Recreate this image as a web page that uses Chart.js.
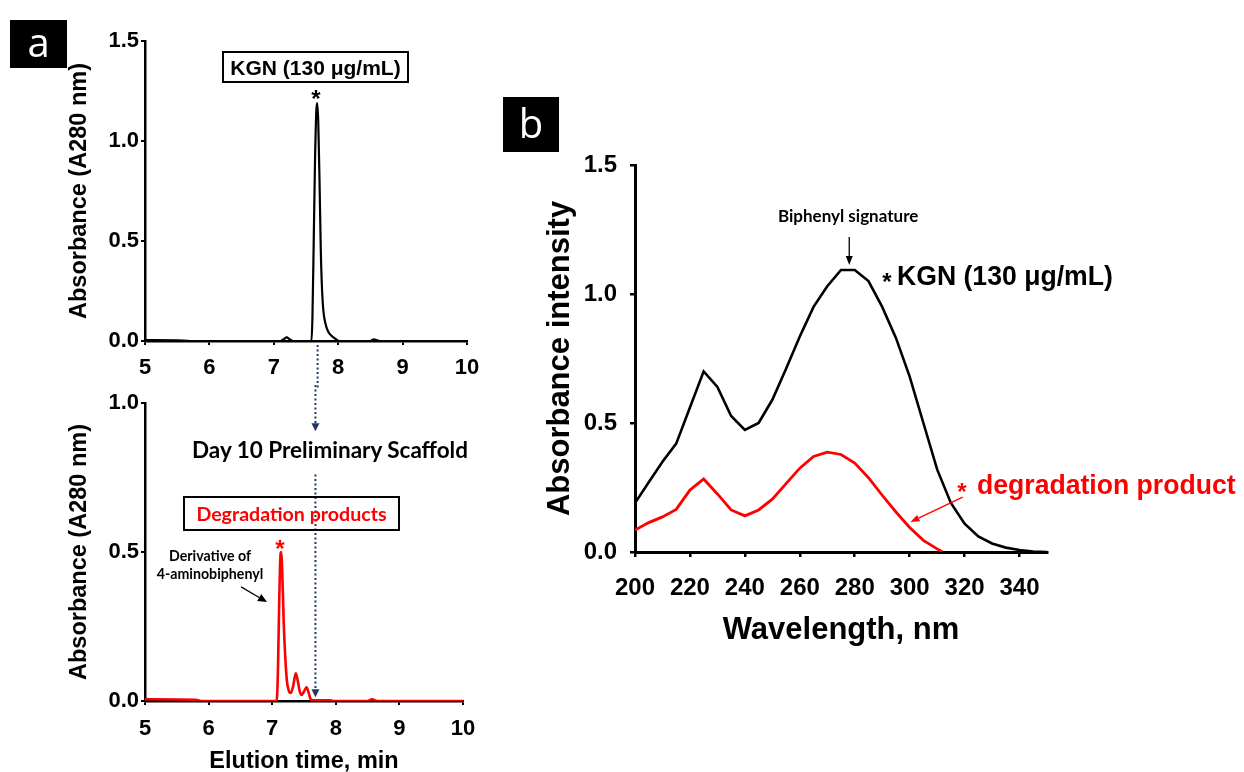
<!DOCTYPE html>
<html><head><meta charset="utf-8">
<script src="https://cdn.jsdelivr.net/npm/chart.js@4.4.1/dist/chart.umd.min.js"></script>
<style>
html,body{margin:0;padding:0;background:#fff;width:1244px;height:772px;overflow:hidden;position:relative}
.t{position:absolute;white-space:nowrap;font-family:"Liberation Sans",Arial,sans-serif;font-weight:bold;line-height:1}
.c{font-family:Lato,"Open Sans",sans-serif}
canvas{position:absolute}
</style></head><body>
<canvas id="cTop" width="450" height="365" style="left:40px;top:25px"></canvas>
<canvas id="cBot" width="447" height="387" style="left:40px;top:385px"></canvas>
<canvas id="cB" width="540" height="523" style="left:520px;top:137px"></canvas>

<div class="t" style="left:10px;top:20px;width:57px;height:48px;background:#000;color:#fff;font-family:'Open Sans',sans-serif;font-weight:normal;font-size:40px;line-height:44px;text-align:center">a</div>
<div class="t" style="left:503px;top:97px;width:56px;height:55px;background:#000;color:#fff;font-family:'Open Sans',sans-serif;font-weight:normal;font-size:40px;line-height:52px;text-align:center">b</div>

<div class="t" style="left:222px;top:51px;width:183px;height:28px;border:2px solid #000;font-size:21px;line-height:29px;text-align:center">KGN (130 μg/mL)</div>
<div class="t" style="left:306px;top:87px;width:20px;text-align:center;font-size:24px">*</div>
<div class="t c" style="left:192px;top:438.5px;font-size:22.5px">Day 10 Preliminary Scaffold</div>
<div class="t c" style="left:183px;top:496px;width:213px;height:31px;border:2px solid #000;font-size:19.6px;line-height:32px;text-align:center;color:#ff0000">Degradation products</div>
<div class="t c" style="left:150px;top:547px;width:120px;text-align:center;font-size:14.2px;line-height:18px">Derivative of<br>4-aminobiphenyl</div>
<div class="t" style="left:270px;top:537px;width:20px;text-align:center;font-size:24px;color:#ff0000">*</div>

<div class="t c" style="left:778px;top:207px;font-size:17px">Biphenyl signature</div>
<div class="t" style="left:877px;top:270px;width:20px;text-align:center;font-size:24px">*</div>
<div class="t" style="left:897px;top:262px;font-size:28px;transform:scaleX(0.95);transform-origin:left center">KGN (130 μg/mL)</div>
<div class="t" style="left:952px;top:480px;width:20px;text-align:center;font-size:24px;color:#ff0000">*</div>
<div class="t" style="left:977px;top:471px;font-size:28px;color:#ff0000;transform:scaleX(0.95);transform-origin:left center">degradation product</div>

<script>
// ---- data: HPLC of KGN standard (panel a, top) ----
const kgnTime = [5.0, 5.5, 5.7, 7.10, 7.15, 7.20, 7.25, 7.30, 7.56, 7.585, 7.60, 7.62, 7.64, 7.66, 7.673, 7.69, 7.71, 7.73, 7.75, 7.77, 7.80, 7.84, 7.90, 7.96, 8.02, 8.50, 8.55, 8.60, 8.65, 10.0];
const kgnAbs  = [0.004, 0.003, 0.0, 0.0, 0.008, 0.018, 0.008, 0.0, 0.0, 0.0, 0.12, 0.5, 0.9, 1.15, 1.19, 1.1, 0.8, 0.45, 0.25, 0.15, 0.09, 0.05, 0.025, 0.01, 0.0, 0.0, 0.008, 0.004, 0.0, 0.0];
// ---- data: HPLC of day-10 scaffold (panel a, bottom) ----
const degTime = [5.0, 5.8, 5.9, 7.05, 7.07, 7.09, 7.11, 7.13, 7.14, 7.16, 7.18, 7.20, 7.23, 7.26, 7.29, 7.33, 7.37, 7.40, 7.43, 7.46, 7.50, 7.54, 7.57, 7.60, 7.65, 7.90, 8.00, 8.50, 8.57, 8.65, 10.0];
const degAbs  = [0.006, 0.004, 0.0, 0.0, 0.0, 0.1, 0.33, 0.49, 0.5, 0.42, 0.27, 0.17, 0.07, 0.035, 0.027, 0.05, 0.093, 0.07, 0.035, 0.02, 0.032, 0.046, 0.03, 0.008, 0.002, 0.002, 0.0, 0.0, 0.006, 0.0, 0.0];
// ---- data: UV spectra (panel b) ----
const kgnWl   = [200,205,210,215,220,225,230,235,240,245,250,255,260,265,270,275,280,285,290,295,300,305,310,315,320,325,330,335,340,345,350];
const kgnSpec = [0.19,0.27,0.35,0.42,0.56,0.70,0.64,0.527,0.473,0.50,0.59,0.71,0.835,0.95,1.03,1.093,1.093,1.05,0.95,0.83,0.68,0.50,0.32,0.19,0.11,0.06,0.033,0.017,0.008,0.002,0.0];
const degWl   = [200,205,210,215,220,225,230,235,240,245,250,255,260,265,270,275,280,285,290,295,300,305,310,312];
const degSpec = [0.085,0.114,0.136,0.165,0.24,0.283,0.225,0.163,0.14,0.163,0.205,0.265,0.325,0.37,0.387,0.378,0.345,0.288,0.22,0.155,0.095,0.045,0.012,0.0];
// ---- tick labels ----
const elutionTicks = [5,6,7,8,9,10];
const topAbsTicks  = [0,0.5,1.0,1.5];
const botAbsTicks  = [0,0.5,1.0];
const wlTicks      = [200,220,240,260,280,300,320,340];
const specTicks    = [0,0.5,1.0,1.5];

const FF = '"Liberation Sans", Arial, sans-serif';
const NAVY = '#1f3864';

function pts(xs, ys){ return xs.map((x,i)=>({x:x, y:ys[i]})); }

function arrow(ctx,x1,y1,x2,y2,color,lw,hl,hw,dash){
  ctx.save(); ctx.strokeStyle=color; ctx.fillStyle=color; ctx.lineWidth=lw;
  const a=Math.atan2(y2-y1,x2-x1);
  const bx=x2-hl*Math.cos(a), by=y2-hl*Math.sin(a);
  if(dash) ctx.setLineDash(dash);
  ctx.beginPath(); ctx.moveTo(x1,y1); ctx.lineTo(bx,by); ctx.stroke();
  ctx.setLineDash([]);
  ctx.beginPath(); ctx.moveTo(x2,y2);
  ctx.lineTo(bx+hw/2*Math.sin(a), by-hw/2*Math.cos(a));
  ctx.lineTo(bx-hw/2*Math.sin(a), by+hw/2*Math.cos(a));
  ctx.closePath(); ctx.fill(); ctx.restore();
}

function mk(id, datasets, o){
  return new Chart(document.getElementById(id), {
    type:'scatter',
    data:{datasets:datasets},
    options:{
      responsive:false, animation:false, events:[],
      layout:{padding:o.pad},
      plugins:{legend:{display:false}, tooltip:{enabled:false}},
      scales:{
        x:{type:'linear', min:o.xmin, max:o.xmax,
          afterBuildTicks:s=>{ s.ticks=o.xt.map(v=>({value:v})); },
          afterFit:s=>{ s.height=o.xh; },
          grid:{display:true, drawOnChartArea:false, drawTicks:true, tickLength:o.tl, color:'#000', lineWidth:o.tw},
          border:{display:true, color:'#000', width:o.bw},
          ticks:{color:'#000', font:{family:FF, size:o.xfs, weight:'bold'}, padding:o.xpad, maxRotation:0, autoSkip:false, callback:v=>String(v)},
          title:o.xtitle},
        y:{type:'linear', min:o.ymin, max:o.ymax,
          afterBuildTicks:s=>{ s.ticks=o.yt.map(v=>({value:v})); },
          afterFit:s=>{ s.width=o.yw; },
          grid:{display:true, drawOnChartArea:false, drawTicks:true, tickLength:o.tl, color:'#000', lineWidth:o.tw},
          border:{display:true, color:'#000', width:o.bw},
          ticks:{color:'#000', font:{family:FF, size:o.yfs, weight:'bold'}, padding:o.ypad, autoSkip:false, callback:v=>v.toFixed(1)},
          title:o.ytitle}
      }
    },
    plugins:o.plugin?[o.plugin]:[]
  });
}

const lineDs = (data,color,w,smooth)=>({data:data, showLine:true, borderColor:color, borderWidth:w, pointRadius:0, fill:false,
  cubicInterpolationMode: smooth?'monotone':'default', tension:0});

// panel a, top
mk('cTop', [lineDs(pts(kgnTime,kgnAbs),'#000',2.2,true)], {
  pad:{top:16,right:23,left:0,bottom:0}, xmin:5, xmax:10, ymin:0, ymax:1.5,
  xt:elutionTicks, yt:topAbsTicks, xh:49, yw:105, tl:4, tw:2, bw:2.5, xfs:22, yfs:22, xpad:10, ypad:2,
  xtitle:{display:false},
  ytitle:{display:true, text:'Absorbance (A280 nm)', color:'#000', font:{family:FF,size:23.5,weight:'bold',lineHeight:1.2}, padding:{top:25,bottom:0}},
  plugin:{id:'dotTop', afterDraw(c){
    const x=c.scales.x.getPixelForValue(7.68), y0=c.scales.y.getPixelForValue(0);
    const ctx=c.ctx; ctx.save(); ctx.strokeStyle=NAVY; ctx.lineWidth=2; ctx.setLineDash([2,2.5]);
    ctx.beginPath(); ctx.moveTo(x,y0+4); ctx.lineTo(x,c.height); ctx.stroke(); ctx.restore();
  }}
});

// panel a, bottom
mk('cBot', [lineDs(pts(degTime,degAbs),'#ff0000',2.6,true)], {
  pad:{top:18,right:24,left:0,bottom:0}, xmin:5, xmax:10, ymin:0, ymax:1.0,
  xt:elutionTicks, yt:botAbsTicks, xh:71, yw:105, tl:4, tw:2, bw:2.5, xfs:22, yfs:22, xpad:11, ypad:2,
  xtitle:{display:true, text:'Elution time, min', color:'#000', font:{family:FF,size:23.5,weight:'bold',lineHeight:0.85}, padding:{top:0,bottom:0}},
  ytitle:{display:true, text:'Absorbance (A280 nm)', color:'#000', font:{family:FF,size:23.5,weight:'bold',lineHeight:1.2}, padding:{top:25,bottom:0}},
  plugin:{id:'dotBot', afterDraw(c){
    const sx=c.scales.x, sy=c.scales.y, ctx=c.ctx;
    const x=sx.getPixelForValue(7.68);
    arrow(ctx, x, 0, x, sy.getPixelForValue(0.905), NAVY, 2, 8, 8, [2,2.5]);
    arrow(ctx, x, sy.getPixelForValue(0.76), x, sy.getPixelForValue(0.013), NAVY, 2, 8, 8, [2,2.5]);
    arrow(ctx, sx.getPixelForValue(6.51), sy.getPixelForValue(0.383), sx.getPixelForValue(6.918), sy.getPixelForValue(0.332), '#000', 1.3, 9, 8);
  }}
});

// panel b
mk('cB', [lineDs(pts(kgnWl,kgnSpec),'#000',2.6,false), lineDs(pts(degWl,degSpec),'#ff0000',2.8,false)], {
  pad:{top:28,right:13,left:0,bottom:0}, xmin:200, xmax:350, ymin:0, ymax:1.5,
  xt:wlTicks, yt:specTicks, xh:108, yw:115, tl:5, tw:2.5, bw:3, xfs:24, yfs:24, xpad:17, ypad:13,
  xtitle:{display:true, text:'Wavelength, nm', color:'#000', font:{family:FF,size:31,weight:'bold',lineHeight:1.2}, padding:{top:0,bottom:11}},
  ytitle:{display:true, text:'Absorbance intensity', color:'#000', font:{family:FF,size:31,weight:'bold',lineHeight:1.2}, padding:{top:22,bottom:0}},
  plugin:{id:'annB', afterDraw(c){
    const sx=c.scales.x, sy=c.scales.y, ctx=c.ctx;
    arrow(ctx, sx.getPixelForValue(278), sy.getPixelForValue(1.221), sx.getPixelForValue(278), sy.getPixelForValue(1.112), '#000', 1.3, 9, 7);
    arrow(ctx, sx.getPixelForValue(319.3), sy.getPixelForValue(0.213), sx.getPixelForValue(300.3), sy.getPixelForValue(0.116), '#ff0000', 1.3, 9, 7);
  }}
});
</script>
</body></html>
